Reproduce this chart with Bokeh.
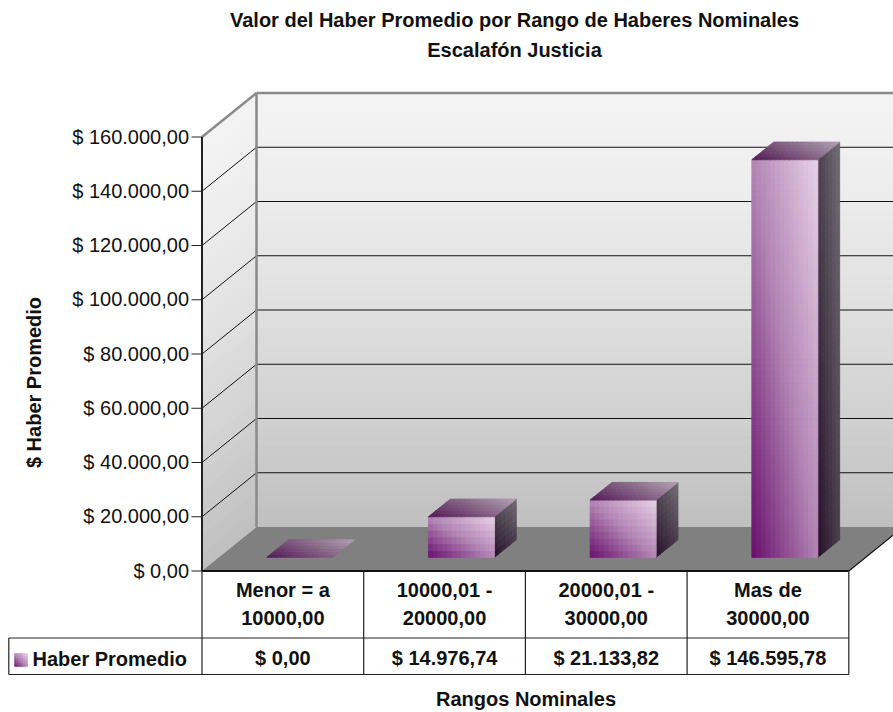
import math
from bokeh.plotting import figure
from bokeh.models import Range1d
from bokeh.core.properties import value
from bokeh.embed import file_html
from bokeh.resources import INLINE

# ---------------- data ----------------
categories = ["Menor = a\n10000,00", "10000,01 -\n20000,00", "20000,01 -\n30000,00", "Mas de\n30000,00"]
haber_promedio = [0.0, 14976.74, 21133.82, 146595.78]
series_name = "Haber Promedio"
y_ticks = [0, 20000, 40000, 60000, 80000, 100000, 120000, 140000, 160000]
title_lines = ["Valor del Haber Promedio por Rango de Haberes Nominales", "Escalafón Justicia"]
y_title = "$ Haber Promedio"
x_title = "Rangos Nominales"


def fmt_money(v):
    s = f"{v:,.2f}".replace(",", "X").replace(".", ",").replace("X", ".")
    return "$ " + s


# ---------------- layout (picture pixels) ----------------
W, H = 893, 712
ORIGIN = 0                           # canvas origin in the picture
X0_PX, Y0_PX = 201.5, 570.5        # front-left-bottom corner of the plot box
COL_PX = 161.7                      # pixels per category
VAL_PX = 434.0 / 160000.0           # pixels per value unit
DEPTH_PX = (54.5, 44.0)             # 3D depth offset
BAR_W_PX = 66.0
F1, F2 = 0.31, 0.71                 # bar depth placement (fraction of total depth)
TXT = 7.5                           # baseline correction for text (px, upward)
FONT = value("Liberation Sans")


def X(px):
    return -0.5 + (px - X0_PX) / COL_PX


def Y(py):
    return (Y0_PX - py) / VAL_PX


def TY(py):
    return Y(py - TXT)


def dxu(px):
    return px / COL_PX


def dyu(px):
    return px / VAL_PX


YMAX = y_ticks[-1]
NCAT = len(categories)
DX, DY = dxu(DEPTH_PX[0]), dyu(DEPTH_PX[1])
XL, XR = X(ORIGIN), X(ORIGIN + W)

p = figure(width=W, height=H, x_range=Range1d(XL, XR), y_range=Range1d(Y(ORIGIN + H), Y(ORIGIN)),
           output_backend="svg", toolbar_location=None, x_axis_type=None, y_axis_type=None,
           min_border=0)
p.outline_line_color = None
p.background_fill_color = "white"
p.border_fill_color = "white"


def lerp_stops(stops, t):
    t = min(max(t, 0.0), 1.0)
    for (t0, c0), (t1, c1) in zip(stops, stops[1:]):
        if t <= t1:
            f = (t - t0) / (t1 - t0) if t1 > t0 else 0.0
            return "#%02x%02x%02x" % tuple(int(round(a + (b - a) * f)) for a, b in zip(c0, c1))
    return "#%02x%02x%02x" % stops[-1][1]


def add_cells(acc, ox, oy, ax, ay, bx, by, nu, nv, stops, wu=0.5, wv=0.5):
    for iu in range(nu):
        u0, u1 = iu / nu, (iu + 1) / nu
        for iv in range(nv):
            v0, v1 = iv / nv, (iv + 1) / nv
            acc["xs"].append([ox + ax * u0 + bx * v0, ox + ax * u1 + bx * v0,
                              ox + ax * u1 + bx * v1, ox + ax * u0 + bx * v1])
            acc["ys"].append([oy + ay * u0 + by * v0, oy + ay * u1 + by * v0,
                              oy + ay * u1 + by * v1, oy + ay * u0 + by * v1])
            t = wu * (u0 + u1) / 2 + wv * (v0 + v1) / 2
            acc["c"].append(lerp_stops(stops, t))


def draw_cells(acc, lw=0.9):
    p.patches(acc["xs"], acc["ys"], fill_color=acc["c"], line_color=acc["c"], line_width=lw)


def gray(t):
    g = int(round(191 + 52 * (1 - (1 - t) ** 1.4)))
    return "#%02x%02x%02x" % (g, g, g)


# ---------------- walls ----------------
NS = 48
walls = {"xs": [], "ys": [], "c": []}
for k in range(NS):
    a, b = YMAX * k / NS, YMAX * (k + 1) / NS
    c = gray((k + 0.5) / NS)
    # back wall strip
    walls["xs"].append([-0.5 + DX, XR + 0.2, XR + 0.2, -0.5 + DX])
    walls["ys"].append([a + DY, a + DY, b + DY, b + DY])
    walls["c"].append(c)
    # side wall strip
    walls["xs"].append([-0.5, -0.5 + DX, -0.5 + DX, -0.5])
    walls["ys"].append([a, a + DY, b + DY, b])
    walls["c"].append(c)
draw_cells(walls, lw=1.0)

grid_vals = y_ticks[1:-1]
p.segment(x0=[-0.5 + DX] * len(grid_vals), y0=[v + DY for v in grid_vals],
          x1=[XR + 0.2] * len(grid_vals), y1=[v + DY for v in grid_vals],
          line_color="#111111", line_width=1)
p.segment(x0=[-0.5] * len(grid_vals), y0=grid_vals,
          x1=[-0.5 + DX] * len(grid_vals), y1=[v + DY for v in grid_vals],
          line_color="#111111", line_width=1)

# floor
p.patch([-0.5, NCAT - 0.5, NCAT - 0.5 + DX, -0.5 + DX], [0, 0, DY, DY],
        fill_color="#808080", line_color=None)
p.segment(x0=[NCAT - 0.5], y0=[0], x1=[NCAT - 0.5 + DX], y1=[DY], line_color="#111111", line_width=1.2)

# wall edges
p.segment(x0=[-0.5 + DX, -0.5 + DX, -0.5], y0=[DY, YMAX + DY, YMAX],
          x1=[-0.5 + DX, XR + 0.2, -0.5 + DX], y1=[YMAX + DY, YMAX + DY, YMAX + DY],
          line_color="#8a8a8a", line_width=2.5)

# ---------------- bars ----------------
FRONT = [(0.0, (104, 14, 108)), (0.5, (178, 132, 180)), (1.0, (232, 208, 232))]
TOP = [(0.0, (82, 24, 84)), (1.0, (176, 162, 176))]
SIDE = [(0.0, (36, 16, 40)), (1.0, (114, 110, 116))]

BW = dxu(BAR_W_PX)
D = F2 - F1
bars = {"xs": [], "ys": [], "c": []}
for i, v in enumerate(haber_promedio):
    xl = i + F1 * DX - BW / 2
    yb = F1 * DY
    hpx = v * VAL_PX
    nv = max(2, int(hpx / 6))
    if v > 0:
        add_cells(bars, xl + BW, yb, D * DX, D * DY, 0, v, 6, nv, SIDE)
        add_cells(bars, xl, yb, BW, 0, 0, v, 14, nv, FRONT)
    add_cells(bars, xl, yb + v, BW, 0, D * DX, D * DY, 14, 6, TOP)
draw_cells(bars)

# ---------------- value axis ----------------
p.segment(x0=[-0.5], y0=[0], x1=[-0.5], y1=[YMAX], line_color="#222222", line_width=2)
p.segment(x0=[X(191)] * len(y_ticks), y0=y_ticks, x1=[-0.5] * len(y_ticks), y1=y_ticks,
          line_color="#222222", line_width=1.2)
p.text(x=[X(188.5)] * len(y_ticks), y=[t - dyu(7.2 - TXT) for t in y_ticks],
       text=[fmt_money(t) for t in y_ticks], text_font=FONT, text_font_size="20px",
       text_align="right", text_baseline="alphabetic", text_color="#111111")

# ---------------- data table ----------------
row1_y, row2_y = Y(637.5), Y(674)
p.segment(x0=[-0.5], y0=[0], x1=[NCAT - 0.5], y1=[0], line_color="#111111", line_width=2)
p.segment(x0=[X(8.3)] * 2, y0=[row1_y, row2_y], x1=[NCAT - 0.5] * 2, y1=[row1_y, row2_y],
          line_color="#222222", line_width=1.2)
p.segment(x0=[i - 0.5 for i in range(NCAT + 1)] + [X(8.3)],
          y0=[0] * (NCAT + 1) + [row1_y],
          x1=[i - 0.5 for i in range(NCAT + 1)] + [X(8.3)],
          y1=[row2_y] * (NCAT + 2),
          line_color="#222222", line_width=1.2)

cat_l1 = [c.split("\n")[0] for c in categories]
cat_l2 = [c.split("\n")[1] for c in categories]
idx = list(range(NCAT))
bold = dict(text_font=FONT, text_font_size="20px", text_font_style="bold",
            text_color="#111111", text_baseline="alphabetic")
p.text(x=idx, y=[TY(597)] * NCAT, text=cat_l1, text_align="center", **bold)
p.text(x=idx, y=[TY(625)] * NCAT, text=cat_l2, text_align="center", **bold)
p.text(x=idx, y=[TY(665)] * NCAT, text=[fmt_money(v) for v in haber_promedio],
       text_align="center", **bold)

# legend key + series name
key = {"xs": [], "ys": [], "c": []}
add_cells(key, X(14), Y(666), X(27) - X(14), 0, 0, Y(653) - Y(666), 6, 6, FRONT)
draw_cells(key, lw=0.5)
p.text(x=[X(32)], y=[TY(666)], text=[series_name], text_align="left", **bold)

# ---------------- titles ----------------
p.text(x=[X(514)] * 2, y=[TY(27), TY(57)], text=title_lines, text_align="center", **bold)
p.text(x=[X(525.5)], y=[TY(706)], text=[x_title], text_align="center", **bold)
p.text(x=[X(33)], y=[Y(382)], text=[y_title], angle=math.pi / 2, text_align="center",
       text_font=FONT, text_font_size="20px", text_font_style="bold", text_color="#111111",
       text_baseline="middle")

open("out.html", "w", encoding="utf-8").write(file_html(p, INLINE))
